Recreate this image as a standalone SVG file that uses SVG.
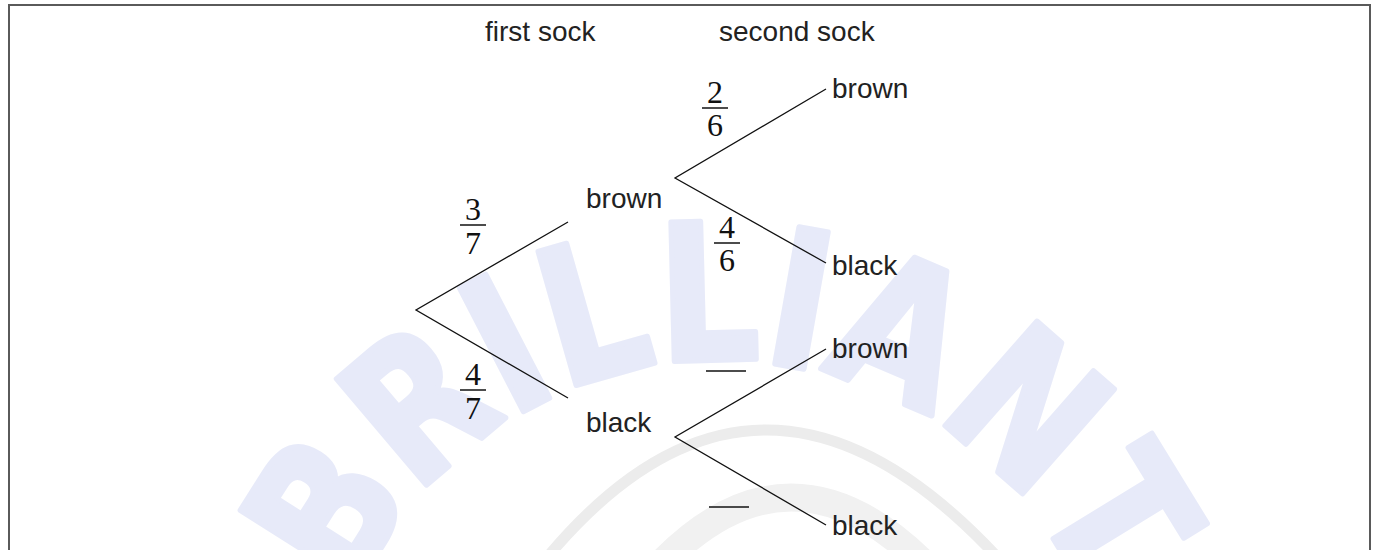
<svg xmlns="http://www.w3.org/2000/svg" width="1377" height="550" viewBox="0 0 1377 550">
<style>
.lbl{font-family:"Liberation Sans",Arial,sans-serif;font-size:28px;fill:#222}
.num{font-family:"Liberation Serif","Times New Roman",serif;font-size:32px;fill:#111;text-anchor:middle}
.edge{stroke:#111;stroke-width:1.3;fill:none}
.bar{stroke:#111;stroke-width:1.5}
.wm{font-family:"DejaVu Sans","Liberation Sans",sans-serif;font-weight:900;font-size:190px;fill:#e7eaf9;stroke:#e7eaf9;stroke-width:6;stroke-linejoin:round}
</style>
<defs>
<path id="wmArc" d="M 351.8 603.7 A 400 400 0 0 1 1088.2 603.7"/>
</defs>
<rect x="0" y="0" width="1377" height="550" fill="#fff"/>
<g id="watermark">
<path d="M 545 560 Q 760 300 1000 560" fill="none" stroke="#ececec" stroke-width="11"/>
<path d="M 660 565 Q 790 430 925 565" fill="none" stroke="#f1f1f1" stroke-width="28"/>
<text class="wm"><textPath href="#wmArc" textLength="925" lengthAdjust="spacingAndGlyphs" startOffset="5">BRILLIANT</textPath></text>
</g>
<rect x="9" y="5" width="1361" height="560" fill="none" stroke="#5a5a5a" stroke-width="2"/>
<g id="headers">
<text class="lbl" x="485" y="41">first sock</text>
<text class="lbl" x="719" y="41">second sock</text>
</g>
<g id="connectors">
<path class="edge" d="M 568 222 L 416 310 L 568 398"/>
<path class="edge" d="M 826 89 L 675 178 L 826 263"/>
<path class="edge" d="M 826 349 L 675 437 L 826 525"/>
</g>
<g id="edge-labels">
<g id="p-3-7"><text class="num" x="473" y="220">3</text><line class="bar" x1="460" y1="225" x2="486" y2="225"/><text class="num" x="473" y="254">7</text></g>
<g id="p-4-7"><text class="num" x="473" y="385">4</text><line class="bar" x1="460" y1="390" x2="486" y2="390"/><text class="num" x="473" y="419">7</text></g>
<g id="p-2-6"><text class="num" x="715" y="103">2</text><line class="bar" x1="702" y1="108" x2="728" y2="108"/><text class="num" x="715" y="136">6</text></g>
<g id="p-4-6"><text class="num" x="727" y="238">4</text><line class="bar" x1="714" y1="243" x2="740" y2="243"/><text class="num" x="727" y="271">6</text></g>
<line id="p-blank-1" class="bar" x1="706" y1="371" x2="746" y2="371"/>
<line id="p-blank-2" class="bar" x1="709" y1="507" x2="749" y2="507"/>
</g>
<g id="node-first-brown"><text class="lbl" x="586" y="208">brown</text></g>
<g id="node-first-black"><text class="lbl" x="586" y="432">black</text></g>
<g id="node-bb"><text class="lbl" x="832" y="98">brown</text></g>
<g id="node-bk"><text class="lbl" x="832" y="275">black</text></g>
<g id="node-kb"><text class="lbl" x="832" y="358">brown</text></g>
<g id="node-kk"><text class="lbl" x="832" y="535">black</text></g>
</svg>
